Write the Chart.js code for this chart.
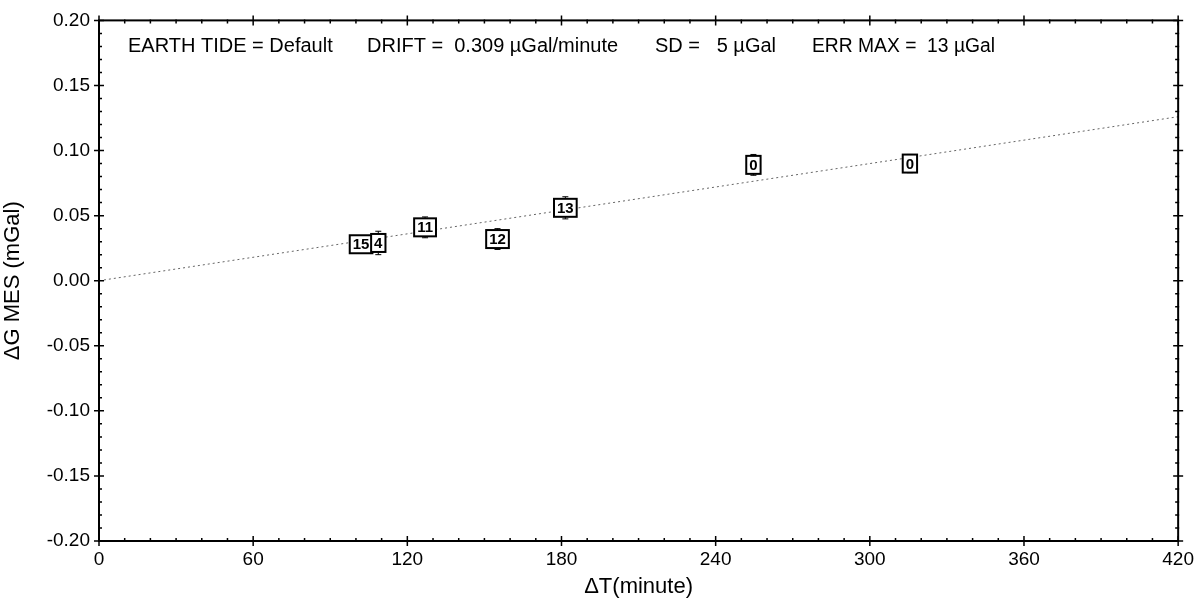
<!DOCTYPE html>
<html>
<head>
<meta charset="utf-8">
<script src="https://cdn.jsdelivr.net/npm/chart.js@4.4.1/dist/chart.umd.min.js"></script>
<style>
  html, body { margin: 0; padding: 0; background: #fff; }
  #wrap { width: 1201px; height: 600px; }
</style>
</head>
<body>
<div id="wrap"><canvas id="driftChart" width="1201" height="600"></canvas></div>
<script>
// station readings (minutes since start, mGal)
const pointTimes   = [102, 108.7, 126.9, 155.1, 181.5, 254.7, 315.6];
const pointGravity = [0.028, 0.029, 0.041, 0.032, 0.056, 0.089, 0.090];
const pointLabels  = ['15', '4', '11', '12', '13', '0', '0'];
const pointErr     = [0.006, 0.009, 0.008, 0.008, 0.0085, 0.008, 0.007];

// fitted drift line
const driftTimes   = [0, 420];
const driftGravity = [0, 0.126];

const xTicks = [0, 60, 120, 180, 240, 300, 360, 420];
const yTicks = [-0.20, -0.15, -0.10, -0.05, 0.00, 0.05, 0.10, 0.15, 0.20];

const headerParts = [
  'EARTH TIDE = Default',
  'DRIFT =  0.309 \u00b5Gal/minute',
  'SD =   5 \u00b5Gal',
  'ERR MAX =  13 \u00b5Gal'
];

const FONT = '"Liberation Sans", Arial, Helvetica, sans-serif';

let frameAndMarks = {
  id: 'frameAndMarks',
  afterDatasetsDraw(chart) {
    let ctx = chart.ctx,
        a = chart.chartArea,
        xs = chart.scales.x,
        ys = chart.scales.y;

    ctx.save();
    // frame
    ctx.strokeStyle = '#000';
    ctx.lineWidth = 2;
    ctx.strokeRect(a.left, a.top, a.right - a.left, a.bottom - a.top);

    // ticks
    ctx.lineWidth = 1.5;
    ctx.beginPath();
    for (let v = 0; v <= 420; v += 10) {
      let px = xs.getPixelForValue(v),
          major = v % 60 === 0,
          out = major ? 5 : 1,
          inn = major ? 5 : 3;
      ctx.moveTo(px, a.bottom + out); ctx.lineTo(px, a.bottom - inn);
      ctx.moveTo(px, a.top - out); ctx.lineTo(px, a.top + inn);
    }
    for (let i = -20; i <= 20; i++) {
      let py = ys.getPixelForValue(i / 100),
          major = i % 5 === 0,
          out = major ? 5 : 1,
          inn = major ? 5 : 3;
      ctx.moveTo(a.left - out, py); ctx.lineTo(a.left + inn, py);
      ctx.moveTo(a.right + out, py); ctx.lineTo(a.right - inn, py);
    }
    ctx.stroke();

    // error bars
    ctx.lineWidth = 1;
    pointTimes.forEach((t, i) => {
      let px = xs.getPixelForValue(t),
          top = ys.getPixelForValue(pointGravity[i] + pointErr[i]),
          bot = ys.getPixelForValue(pointGravity[i] - pointErr[i]);
      ctx.beginPath();
      ctx.moveTo(px, top); ctx.lineTo(px, bot);
      ctx.moveTo(px - 3, top); ctx.lineTo(px + 3, top);
      ctx.moveTo(px - 3, bot); ctx.lineTo(px + 3, bot);
      ctx.stroke();
    });

    // labelled boxes
    ctx.font = 'bold 15px ' + FONT;
    ctx.textAlign = 'center';
    ctx.textBaseline = 'middle';
    pointTimes.forEach((t, i) => {
      let px = xs.getPixelForValue(t),
          py = ys.getPixelForValue(pointGravity[i]),
          w = ctx.measureText(pointLabels[i]).width + 6,
          h = 18;
      ctx.fillStyle = '#fff';
      ctx.fillRect(px - w / 2, py - h / 2, w, h);
      ctx.lineWidth = 2;
      ctx.strokeRect(px - w / 2, py - h / 2, w, h);
      ctx.fillStyle = '#000';
      ctx.fillText(pointLabels[i], px, py + 1);
    });

    // header line
    ctx.font = '20px ' + FONT;
    ctx.textAlign = 'left';
    ctx.textBaseline = 'alphabetic';
    let starts = [128, 367, 655, 812],
        ends = [335, 625, 780, 995];
    headerParts.forEach((s, i) => ctx.fillText(s, starts[i], 52, ends[i] - starts[i]));
    ctx.restore();
  }
};

let chart = new Chart(document.getElementById('driftChart'), {
  type: 'scatter',
  data: {
    datasets: [
      {
        data: driftTimes.map((t, i) => ({ x: t, y: driftGravity[i] })),
        showLine: true,
        borderColor: '#666',
        borderWidth: 1,
        borderDash: [2, 3],
        pointRadius: 0
      },
      {
        data: pointTimes.map((t, i) => ({ x: t, y: pointGravity[i] })),
        pointRadius: 0
      }
    ]
  },
  options: {
    responsive: false,
    animation: false,
    layout: { padding: { left: 0, right: 20, top: 20, bottom: 0 } },
    plugins: { legend: { display: false }, tooltip: { enabled: false } },
    scales: {
      x: {
        type: 'linear',
        min: 0, max: 420,
        afterBuildTicks: s => { s.ticks = xTicks.map(v => ({ value: v })); },
        afterFit: s => { s.height = 59; },
        grid: { display: false, drawTicks: false },
        border: { display: false },
        ticks: { color: '#000', padding: 7, font: { family: FONT, size: 19 }, maxRotation: 0 },
        title: { display: true, text: '\u0394T(minute)', color: '#000', padding: { top: 0, bottom: 0 }, font: { family: FONT, size: 22 } }
      },
      y: {
        type: 'linear',
        min: -0.2, max: 0.2,
        afterBuildTicks: s => { s.ticks = yTicks.map(v => ({ value: v })); },
        afterFit: s => { s.width = 99; },
        grid: { display: false, drawTicks: false },
        border: { display: false },
        ticks: { color: '#000', padding: 9, font: { family: FONT, size: 19 }, callback: v => v.toFixed(2) },
        title: { display: true, text: '\u0394G MES (mGal)', color: '#000', padding: { top: 0, bottom: 6 }, font: { family: FONT, size: 22 } }
      }
    }
  },
  plugins: [frameAndMarks]
});
</script>
</body>
</html>
